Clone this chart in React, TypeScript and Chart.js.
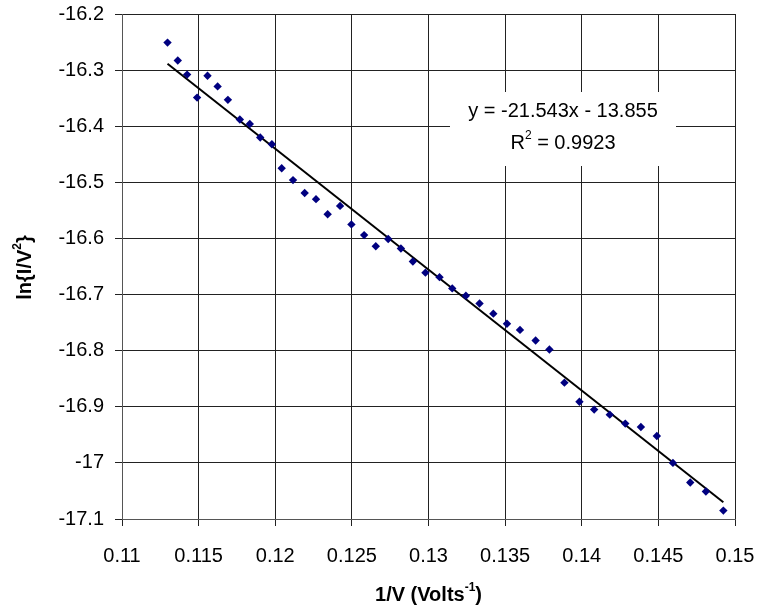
import React, { useEffect, useRef } from "react";
import { Chart, registerables } from "chart.js";

Chart.register(...registerables);

const xVals = [
  0.11297, 0.11364, 0.11425, 0.1149, 0.11558, 0.11624, 0.11691, 0.11769, 0.11834, 0.11902,
  0.11978, 0.12042, 0.12116, 0.12192, 0.12266, 0.12342, 0.12423, 0.12497, 0.1258, 0.12656,
  0.12737, 0.1282, 0.12898, 0.1298, 0.13072, 0.13155, 0.13244, 0.13333, 0.13423, 0.13512,
  0.13597, 0.13699, 0.13789, 0.13887, 0.13985, 0.14081, 0.14183, 0.14284, 0.14386, 0.1449,
  0.14595, 0.14708, 0.1481, 0.14924,
];
const yVals = [
  -16.251, -16.283, -16.308, -16.349, -16.31, -16.329, -16.353, -16.388, -16.396, -16.42,
  -16.432, -16.475, -16.496, -16.519, -16.53, -16.557, -16.542, -16.575, -16.594, -16.614,
  -16.601, -16.618, -16.641, -16.661, -16.669, -16.689, -16.702, -16.716, -16.734, -16.752,
  -16.763, -16.782, -16.798, -16.857, -16.891, -16.905, -16.914, -16.93, -16.936, -16.952,
  -17.0, -17.035, -17.051, -17.085,
];
const slope = -21.543;
const intercept = -13.855;
const rSquared = "0.9923";
const equationText = "y = -21.543x - 13.855";

const FONT = "'Liberation Sans', Arial, Helvetica, sans-serif";

const titlePlugin = {
  id: "customTitles",
  afterDraw(chart: any) {
    const ctx = chart.ctx;
    const area = chart.chartArea;
    ctx.save();
    ctx.fillStyle = "#000";
    const drawSup = (parts: { t: string; sup?: boolean }[], cx: number, cy: number) => {
      const big = "bold 20px " + FONT;
      const small = "bold 12px " + FONT;
      let total = 0;
      for (const p of parts) {
        ctx.font = p.sup ? small : big;
        total += ctx.measureText(p.t).width;
      }
      let x = cx - total / 2;
      ctx.textBaseline = "middle";
      ctx.textAlign = "left";
      for (const p of parts) {
        ctx.font = p.sup ? small : big;
        ctx.fillText(p.t, x, p.sup ? cy - 7 : cy);
        x += ctx.measureText(p.t).width;
      }
    };
    drawSup(
      [{ t: "1/V (Volts" }, { t: "-1", sup: true }, { t: ")" }],
      (area.left + area.right) / 2,
      595
    );
    ctx.save();
    ctx.translate(25, (area.top + area.bottom) / 2 + 1);
    ctx.rotate(-Math.PI / 2);
    drawSup([{ t: "ln{I/V" }, { t: "2", sup: true }, { t: "}" }], 0, 0);
    ctx.restore();
    ctx.restore();
  },
  afterDatasetsDraw(chart: any) {
    const ctx = chart.ctx;
    ctx.save();
    ctx.fillStyle = "#fff";
    ctx.fillRect(450, 92, 226, 74);
    ctx.fillStyle = "#000";
    ctx.textBaseline = "middle";
    ctx.textAlign = "center";
    ctx.font = "20px " + FONT;
    ctx.fillText(equationText, 563, 111);
    const a = "R";
    const s = "2";
    const b = " = " + rSquared;
    const wA = ctx.measureText(a).width;
    const wB = ctx.measureText(b).width;
    ctx.font = "12px " + FONT;
    const wS = ctx.measureText(s).width;
    let x = 563 - (wA + wS + wB) / 2;
    ctx.textAlign = "left";
    ctx.font = "20px " + FONT;
    ctx.fillText(a, x, 143);
    x += wA;
    ctx.font = "12px " + FONT;
    ctx.fillText(s, x, 136);
    x += wS;
    ctx.font = "20px " + FONT;
    ctx.fillText(b, x, 143);
    ctx.restore();
  },
};

export default function App() {
  const ref = useRef<HTMLCanvasElement | null>(null);
  useEffect(() => {
    if (!ref.current) return;
    const points = xVals.map((x, i) => ({ x, y: yVals[i] }));
    const x0 = xVals[0];
    const x1 = xVals[xVals.length - 1];
    const trend = [
      { x: x0, y: slope * x0 + intercept },
      { x: x1, y: slope * x1 + intercept },
    ];
    const chart = new Chart(ref.current, {
      type: "scatter",
      data: {
        datasets: [
          {
            data: points,
            pointStyle: "rectRot",
            pointRadius: 4.2,
            pointBorderWidth: 0,
            backgroundColor: "#000080",
            borderColor: "#000080",
            showLine: false,
          },
          {
            data: trend,
            showLine: true,
            borderColor: "#000",
            borderWidth: 2,
            pointRadius: 0,
            fill: false,
          },
        ],
      },
      options: {
        responsive: false,
        animation: false,
        layout: { padding: { left: 0, right: 27, top: 14, bottom: 0 } },
        plugins: { legend: { display: false }, tooltip: { enabled: false } },
        scales: {
          x: {
            type: "linear",
            min: 0.11,
            max: 0.15,
            afterFit: (s: any) => {
              s.height = 94;
              s.paddingLeft = 0;
              s.paddingRight = 0;
            },
            ticks: {
              stepSize: 0.005,
              color: "#000",
              padding: 18,
              font: { family: FONT, size: 20 },
              callback: (v: any) => String(Number(Number(v).toFixed(3))),
            },
            grid: { color: "#222", lineWidth: 1, tickLength: 7, drawTicks: true },
            border: { color: "#555", width: 1 },
          },
          y: {
            type: "linear",
            min: -17.1,
            max: -16.2,
            afterFit: (s: any) => {
              s.width = 122;
              s.paddingTop = 0;
              s.paddingBottom = 0;
            },
            ticks: {
              stepSize: 0.1,
              color: "#000",
              padding: 11,
              font: { family: FONT, size: 20 },
              callback: (v: any) => String(Number(Number(v).toFixed(2))),
            },
            grid: { color: "#222", lineWidth: 1, tickLength: 7, drawTicks: true },
            border: { color: "#555", width: 1 },
          },
        },
      },
      plugins: [titlePlugin],
    });
    return () => chart.destroy();
  }, []);
  return (
    <div style={{ position: "absolute", left: 0, top: 0, width: 762, height: 613, background: "#fff" }}>
      <canvas ref={ref} width={762} height={613} style={{ display: "block" }} />
    </div>
  );
}
